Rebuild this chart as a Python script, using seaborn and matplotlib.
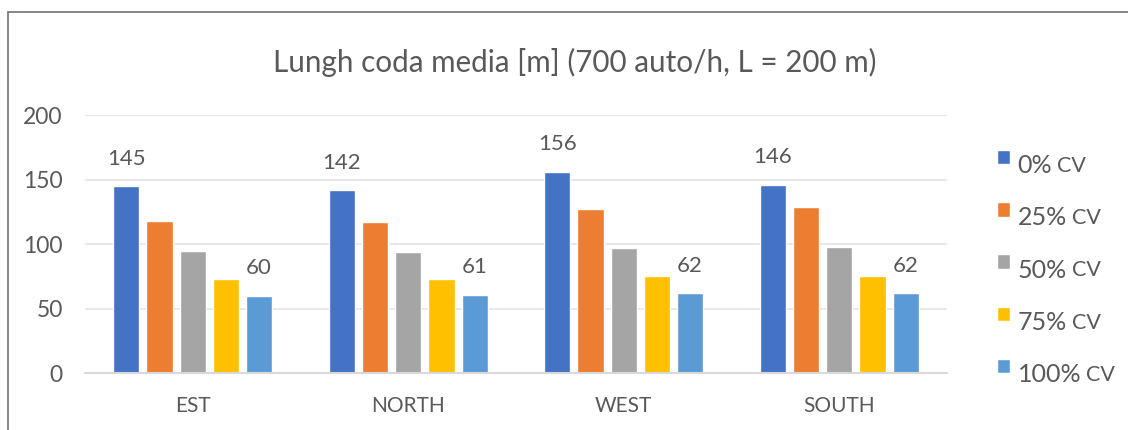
import matplotlib
matplotlib.use("Agg")
import matplotlib.pyplot as plt
import seaborn as sns
import pandas as pd
from matplotlib.patches import Rectangle
from matplotlib.legend_handler import HandlerPatch

categories = ["EST", "NORTH", "WEST", "SOUTH"]
series = ["0% CV", "25% CV", "50% CV", "75% CV", "100% CV"]
v0 = [145, 142, 156, 146]
v25 = [118, 117, 127, 129]
v50 = [95, 94, 97, 98]
v75 = [73, 73, 75, 75]
v100 = [60, 61, 62, 62]
title = "Lungh coda media [m] (700 auto/h, L = 200 m)"
yticks = [0, 50, 100, 150, 200]
colors = ["#4472C4", "#ED7D31", "#A5A5A5", "#FFC000", "#5B9BD5"]

values = [v0, v25, v50, v75, v100]
rows = []
for s, vals in zip(series, values):
    for c, v in zip(categories, vals):
        rows.append({"cat": c, "series": s, "value": v})
df = pd.DataFrame(rows)

sns.set_theme(style="white")
FONT = ["Lato", "DejaVu Sans"]
plt.rcParams["font.family"] = FONT
TXT = "#595959"

fig = plt.figure(figsize=(11.28, 4.30), dpi=100)
ax = fig.add_axes([85 / 1128, 1 - 373.3 / 430, (947 - 85) / 1128, (373.3 - 115) / 430])

sns.barplot(data=df, x="cat", y="value", hue="series", order=categories,
            hue_order=series, palette=colors, width=0.77, gap=0.21,
            saturation=1, ax=ax, legend=True)

ax.set_ylim(0, 200)
ax.set_yticks(yticks)
ax.set_xlabel("")
ax.set_ylabel("")
ax.yaxis.grid(True, color="#E6E6E6", lw=1.3)
ax.set_axisbelow(True)
for s in ["top", "right", "left"]:
    ax.spines[s].set_visible(False)
ax.spines["bottom"].set_color("#D9D9D9")
ax.spines["bottom"].set_linewidth(1.5)
ax.tick_params(axis="y", length=0, pad=16, labelsize=16.5, labelcolor=TXT)
ax.tick_params(axis="x", length=0, pad=16, labelsize=15, labelcolor=TXT)
ax.set_xlim(-0.5, 3.5)

# data labels on first and last series
for cont, vals in [(ax.containers[0], v0), (ax.containers[-1], v100)]:
    ax.bar_label(cont, labels=[str(v) for v in vals], padding=12.5,
                 fontsize=16, color=TXT)


def raised_square(legend, orig_handle, xdescent, ydescent, width, height, fontsize):
    return Rectangle((-xdescent, -ydescent + 5), width, height)


# legend: percentage large, "CV" smaller
handles, labels = ax.get_legend_handles_labels()
leg = ax.legend(handles, labels, loc="center left",
                bbox_to_anchor=(997 / 1128, 1 - 270 / 430),
                bbox_transform=fig.transFigure, frameon=False, fontsize=18,
                handlelength=0.52, handleheight=0.52, handletextpad=0.3,
                labelspacing=1.17, borderpad=0, borderaxespad=0,
                handler_map={Rectangle: HandlerPatch(patch_func=raised_square)})
for t in leg.get_texts():
    t.set_color(TXT)
    t.set_text(t.get_text().split(" ")[0])

fig.text(575 / 1128, 1 - 62 / 430, title, ha="center", va="center",
         fontsize=21.3, color=TXT)

fig.add_artist(Rectangle((8 / 1128, -0.2), 1.5, (1 - 12 / 430) + 0.2,
                         transform=fig.transFigure, fill=False,
                         edgecolor="#767171", lw=1.2))

fig.canvas.draw()
renderer = fig.canvas.get_renderer()
for t in leg.get_texts():
    bb = t.get_window_extent(renderer)
    fig.text(bb.x1 + 5, bb.y0 + 1, "CV", ha="left", va="bottom",
             fontsize=15.5, color=TXT, transform=None)

fig.savefig("out.png", dpi=100)
